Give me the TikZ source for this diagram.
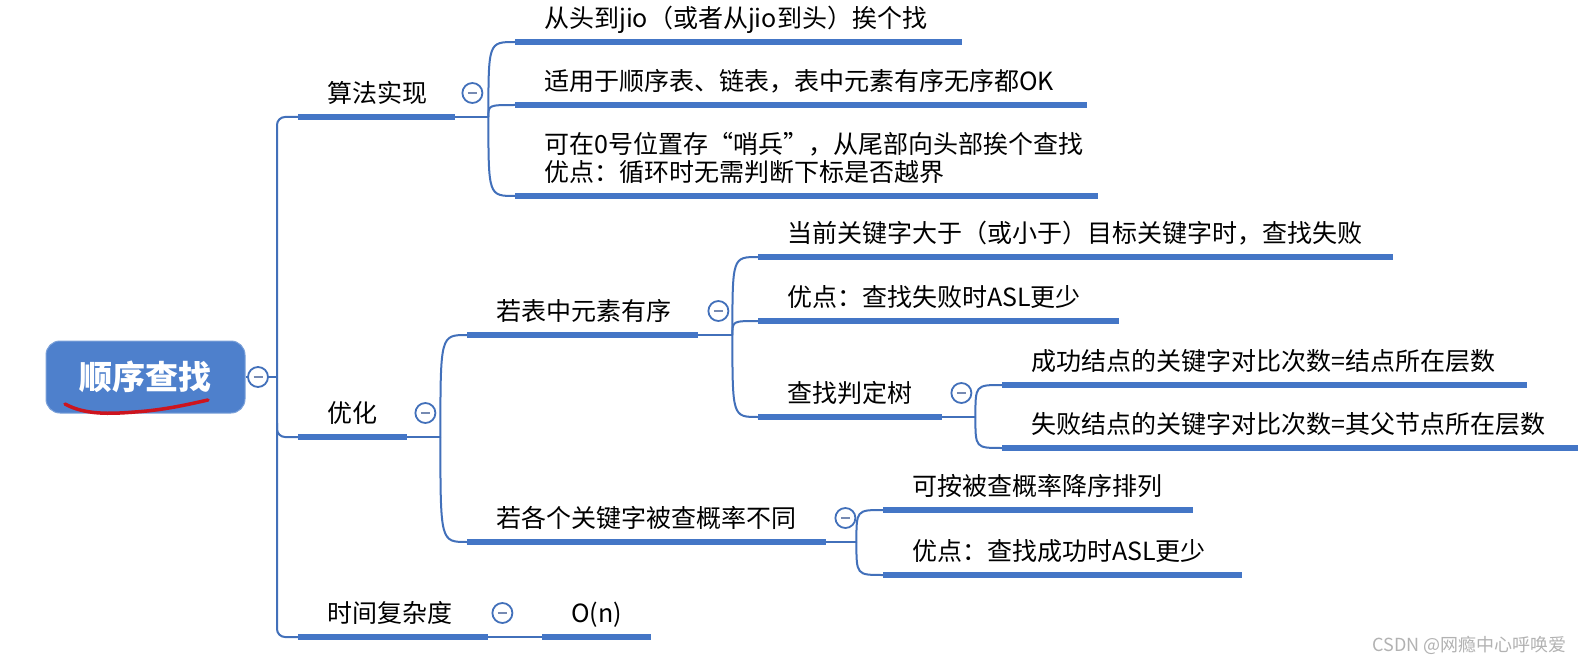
\documentclass[tikz,border=0pt]{standalone}
\usepackage{fontspec}
\setmainfont{Noto Sans CJK SC}
\usepackage{xcolor}
\definecolor{clrBar} {RGB}{ 68,118,198}
\definecolor{clrLnk} {RGB}{ 66,112,186}
\definecolor{clrRoot}{RGB}{ 78,128,204}
\definecolor{clrMin} {RGB}{118,138,178}
\definecolor{clrPen} {RGB}{205, 20, 30}
\tikzset{
  topic/.style={anchor=south west, text width=#1pt, align=left, inner xsep=29pt,
    inner ysep=14.5pt, text depth=0pt, font=\fontsize{25}{28}\selectfont},
  rootnode/.style={rectangle, rounded corners=14pt, fill=clrRoot, draw=clrRoot!75!white,
    line width=1pt, minimum width=199pt, minimum height=72pt, text=white,
    font=\fontsize{33}{36}\selectfont\bfseries},
  bar/.style={line width=6pt, draw=clrBar},
  link/.style={line width=2pt, draw=clrLnk},
  foldbtn/.style={circle, draw=clrLnk, line width=1.8pt, fill=white, minimum size=20pt, inner sep=0pt,
    path picture={\draw[clrMin, line width=2.5pt]
      ([xshift=-4.5pt]path picture bounding box.center) -- ([xshift=4.5pt]path picture bounding box.center);}},
  wmark/.style={font=\fontsize{18}{20}\selectfont, text=gray!60},
}
\begin{document}
\begin{tikzpicture}[x=1pt,y=-1pt]
\useasboundingbox[fill=white] (0,0) rectangle (1583,666);
% root
\node[rootnode] (root) at (145.5,377) {顺序查找};
\draw[clrPen, line width=3.5pt, line cap=round] (65,404) .. controls (85,415) and (110,414) .. (135,412)
  .. controls (165,410) and (190,404) .. (208,400);
\node[foldbtn] (rootbtn) at (258,377) {};
\coordinate (tk) at (277,377);
% level 1
\node[topic=99]  (L1a) at (298,117) {算法实现};
\node[topic=51]  (L1b) at (298,437) {优化};
\node[topic=132] (L1c) at (298,637) {时间复杂度};
% 算法实现
\node[topic=389] (A1) at (515,42)  {从头到jio（或者从jio到头）挨个找};
\node[topic=514] (A2) at (515,105) {适用于顺序表、链表，表中元素有序无序都OK};
\node[topic=525, text depth=28pt] (A3) at (515,196) {可在0号位置存“哨兵”，从尾部向头部挨个查找\\优点：循环时无需判断下标是否越界};
% 优化
\node[topic=173] (B1) at (467,335) {若表中元素有序};
\node[topic=301] (B2) at (467,542) {若各个关键字被查概率不同};
\node[topic=577] (B1a) at (758,257) {当前关键字大于（或小于）目标关键字时，查找失败};
\node[topic=303] (B1b) at (758,321) {优点：查找失败时ASL更少};
\node[topic=126] (B1c) at (758,417) {查找判定树};
\node[topic=467] (B1c1) at (1002,385) {成功结点的关键字对比次数=结点所在层数};
\node[topic=518] (B1c2) at (1002,448) {失败结点的关键字对比次数=其父节点所在层数};
\node[topic=252] (B2a) at (883,510) {可按被查概率降序排列};
\node[topic=301] (B2b) at (883,575) {优点：查找成功时ASL更少};
% 时间复杂度
\node[topic=51, align=center] (C1) at (542,637) {O(n)};
% trunk
\draw[link] (root.east) -- (rootbtn) -- (tk);
\draw[link, rounded corners=8pt] (L1a.south west) -- (tk |- L1a.south west) -- (tk |- L1c.south west) -- (L1c.south west);
\draw[link, rounded corners=8pt] ([yshift=14pt]tk |- L1b.south west) -- (tk |- L1b.south west) -- (L1b.south west);
% branches
\coordinate (L1ak) at ([xshift=33pt]L1a.south east);
\coordinate (L1bk) at ([xshift=33pt]L1b.south east);
\coordinate (B1k)  at ([xshift=34pt]B1.south east);
\coordinate (B1ck) at ([xshift=33pt]B1c.south east);
\coordinate (B2k)  at ([xshift=30pt]B2.south east);
\foreach \p in {L1a,L1b,B1,B1c,B2} \draw[link] (\p.south east) -- (\p k);
\foreach \c in {A1,A2,A3} \draw[link] (L1ak) .. controls (L1ak |- \c.south west) .. (\c.south west);
\foreach \c in {B1,B2} \draw[link] (L1bk) .. controls (L1bk |- \c.south west) .. (\c.south west);
\foreach \c in {B1a,B1b,B1c} \draw[link] (B1k) .. controls (B1k |- \c.south west) .. (\c.south west);
\foreach \c in {B1c1,B1c2} \draw[link] (B1ck) .. controls (B1ck |- \c.south west) .. (\c.south west);
\foreach \c in {B2a,B2b} \draw[link] (B2k) .. controls (B2k |- \c.south west) .. (\c.south west);
\draw[link] (L1c.south east) -- (C1.south west);
% bars
\foreach \n in {L1a,L1b,L1c,A1,A2,A3,B1,B2,B1a,B1b,B1c,B1c1,B1c2,B2a,B2b,C1}
  \draw[bar] (\n.south west) -- (\n.south east);
% fold buttons
\foreach \p/\dx in {L1a/17,L1b/18,B1/20,B1c/19,B2/19,L1c/14}
  \node[foldbtn] (\p btn) at ([xshift=\dx pt,yshift=24pt]\p.south east) {};
% watermark
\node[wmark, anchor=east] (wm) at (1570,645) {CSDN @网瘾中心呼唤爱};
\end{tikzpicture}
\end{document}
